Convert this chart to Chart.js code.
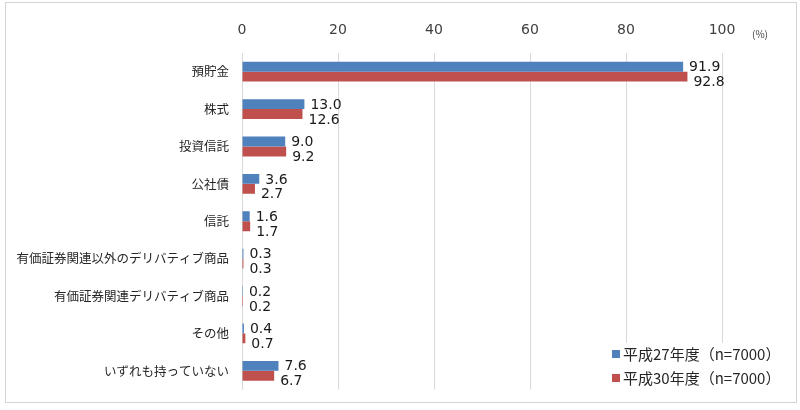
<!DOCTYPE html>
<html>
<head>
<meta charset="utf-8">
<script src="https://cdn.jsdelivr.net/npm/chart.js@4/dist/chart.umd.min.js"></script>
<style>
  html, body { margin: 0; padding: 0; background: #fff; }
  #wrap { position: relative; width: 800px; height: 410px; }
</style>
</head>
<body>
<div id="wrap"><canvas id="chart" width="800" height="410"></canvas></div>
<script>
// 項目
const categories = ['預貯金', '株式', '投資信託', '公社債', '信託',
  '有価証券関連以外のデリバティブ商品', '有価証券関連デリバティブ商品', 'その他', 'いずれも持っていない'];
// 平成27年度 / 平成30年度 (%)
const h27 = [91.9, 13.0, 9.0, 3.6, 1.6, 0.3, 0.2, 0.4, 7.6];
const h30 = [92.8, 12.6, 9.2, 2.7, 1.7, 0.3, 0.2, 0.7, 6.7];
const seriesNames = ['平成27年度（n=7000）', '平成30年度（n=7000）'];
const xTicks = [0, 20, 40, 60, 80, 100];

const jpFont = '"Noto Sans CJK JP", "Noto Sans", sans-serif';
const numFont = '"DejaVu Sans", Verdana, sans-serif';

// 外枠
const framePlugin = {
  id: 'frame',
  beforeDraw(chart) {
    const c = chart.ctx;
    c.save();
    c.fillStyle = '#fff';
    c.fillRect(0, 0, chart.width, chart.height);
    c.strokeStyle = '#d4d4d4';
    c.lineWidth = 1;
    c.strokeRect(5.5, 2.5, 791, 400);
    c.restore();
  }
};

// 数値ラベル
const valueLabels = {
  id: 'valueLabels',
  afterDatasetsDraw(chart) {
    const c = chart.ctx;
    c.save();
    c.font = '14px ' + numFont;
    c.fillStyle = '#1a1a1a';
    c.textBaseline = 'middle';
    chart.data.datasets.forEach((ds, i) => {
      chart.getDatasetMeta(i).data.forEach((bar, j) => {
        const dy = i === 0 ? 1 : 6;
        c.fillText(ds.data[j].toFixed(1), bar.x + 6, bar.y + dy);
      });
    });
    // 単位
    c.font = '10px ' + jpFont;
    c.fillStyle = '#404040';
    c.fillText('(%)', 752, 34);
    c.restore();
  }
};

// 凡例 (グラフ内右下)
const innerLegend = {
  id: 'innerLegend',
  afterDraw(chart) {
    const c = chart.ctx;
    c.save();
    c.fillStyle = '#fff';
    c.fillRect(606, 343, 180, 48);
    c.font = '15px ' + jpFont;
    c.textBaseline = 'middle';
    chart.data.datasets.forEach((ds, i) => {
      const y = 354 + i * 24;
      c.fillStyle = ds.backgroundColor;
      c.fillRect(612, y - 4, 8, 8);
      c.fillStyle = '#262626';
      c.fillText(ds.label, 623, y);
    });
    c.restore();
  }
};

const ctx = document.querySelector('#chart').getContext('2d');
const chart = new Chart(ctx, {
  type: 'bar',
  data: {
    labels: categories,
    datasets: [
      { label: seriesNames[0], data: h27, backgroundColor: '#4F81BD' },
      { label: seriesNames[1], data: h30, backgroundColor: '#C0504D' }
    ]
  },
  options: {
    indexAxis: 'y',
    responsive: false,
    animation: false,
    categoryPercentage: 0.53,
    barPercentage: 1.0,
    layout: { padding: { left: 0, right: 78, top: 0, bottom: 16 } },
    scales: {
      x: {
        position: 'top',
        min: 0,
        max: 100,
        afterBuildTicks(scale) {
          scale.ticks = xTicks.map(v => ({ value: v }));
        },
        afterFit(scale) { scale.height = 53; },
        grid: { color: '#d9d9d9', drawTicks: false },
        border: { display: false },
        ticks: {
          padding: 14,
          color: '#404040',
          font: { family: numFont, size: 14 }
        }
      },
      y: {
        afterFit(scale) { scale.width = 242; },
        grid: { display: false, drawTicks: false },
        border: { display: true, color: '#d9d9d9' },
        ticks: {
          padding: 13,
          color: '#262626',
          font: { family: jpFont, size: 12.5 }
        }
      }
    },
    plugins: {
      legend: { display: false },
      tooltip: { enabled: false }
    }
  },
  plugins: [framePlugin, valueLabels, innerLegend]
});
</script>
</body>
</html>
